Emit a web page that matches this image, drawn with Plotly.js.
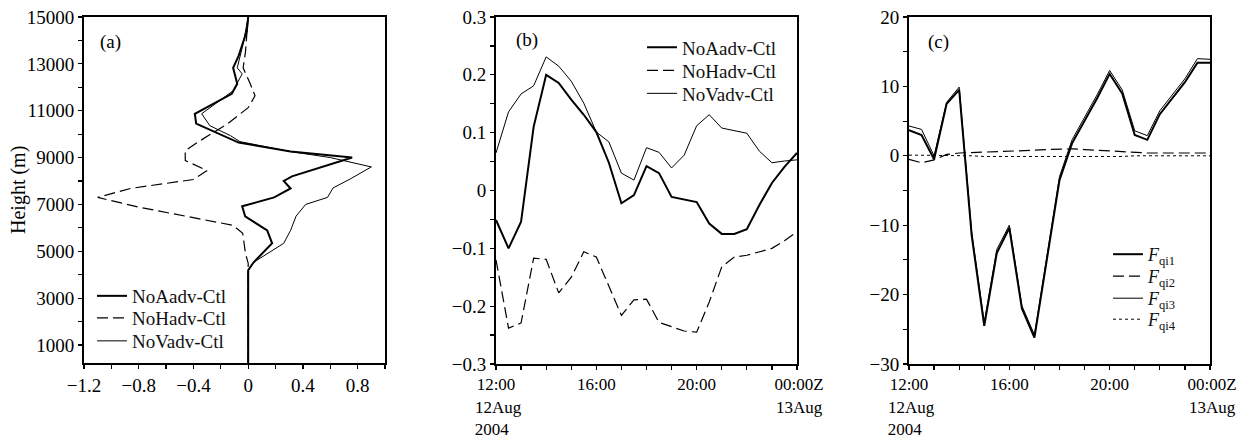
<!DOCTYPE html>
<html>
<head>
<meta charset="utf-8">
<script src="https://cdn.plot.ly/plotly-3.0.1.min.js"></script>
<style>html,body{margin:0;padding:0;background:#fff;}#chart{width:1254px;height:439px;}</style>
</head>
<body>
<div id="chart"></div>
<script>
// ---------- Panel (a): vertical profiles ----------
const aA_height = [230, 4190, 4530, 5340, 5890, 6490, 6920, 7300, 7680, 8000, 8200, 8700, 9000, 9255, 9640, 10450, 10870, 11720, 12150, 12830, 13340, 14400, 15000];
const aA_value  = [0, 0, 0.04, 0.175, 0.139, -0.022, -0.044, 0.19, 0.31, 0.26, 0.32, 0.60, 0.76, 0.31, -0.07, -0.38, -0.39, -0.12, -0.08, -0.11, -0.07, -0.01, 0];

const aH_height = [230, 4490, 4915, 5766, 6106, 6872, 7298, 7681, 8064, 8447, 8872, 9298, 9723, 10447, 11128, 11638, 12150, 12830, 13500, 15000];
const aH_value  = [0, 0, -0.02, -0.04, -0.11, -0.79, -1.1, -0.86, -0.40, -0.30, -0.46, -0.46, -0.35, -0.15, 0.0, 0.05, 0.015, -0.037, -0.02, 0];

const aV_height = [230, 4190, 4530, 5340, 5894, 6500, 7000, 7300, 7700, 8100, 8600, 9000, 9255, 9680, 9936, 10360, 10870, 11851, 12574, 12830, 13851, 15000];
const aV_value  = [0, 0, 0.04, 0.26, 0.31, 0.35, 0.42, 0.58, 0.62, 0.75, 0.90, 0.60, 0.31, -0.06, -0.13, -0.28, -0.34, -0.11, -0.044, -0.08, -0.037, 0];

const heightTicks = [1000, 3000, 5000, 7000, 9000, 11000, 13000, 15000];
const heightTickText = ['1000', '3000', '5000', '7000', '9000', '11000', '13000', '15000'];

// ---------- Panel (b): time series (hours after 12:00 UTC 12 Aug 2004) ----------
const hours = [0, 0.5, 1, 1.5, 2, 2.5, 3, 3.5, 4, 4.5, 5, 5.5, 6, 6.5, 7, 7.5, 8, 8.5, 9, 9.5, 10, 10.5, 11, 11.5, 12];
const bNoAadv = [-0.051, -0.100, -0.054, 0.110, 0.200, 0.186, 0.157, 0.131, 0.101, 0.048, -0.022, -0.008, 0.042, 0.030, -0.011, -0.016, -0.020, -0.057, -0.075, -0.075, -0.067, -0.025, 0.013, 0.041, 0.065];
const bNoHadv = [-0.120, -0.238, -0.229, -0.117, -0.119, -0.177, -0.150, -0.106, -0.115, -0.167, -0.216, -0.189, -0.188, -0.228, -0.236, -0.243, -0.245, -0.193, -0.132, -0.115, -0.112, -0.106, -0.100, -0.087, -0.071];
const bNoVadv = [0.065, 0.136, 0.167, 0.181, 0.231, 0.215, 0.189, 0.151, 0.101, 0.084, 0.030, 0.018, 0.074, 0.066, 0.039, 0.061, 0.112, 0.131, 0.108, 0.103, 0.099, 0.068, 0.048, 0.051, 0.053];

// ---------- Panel (c) ----------
const cFqi1 = [3.7, 3.0, -0.5, 7.5, 9.5, -11.5, -24.5, -14.0, -10.4, -22.0, -26.2, -14.8, -3.5, 1.8, 5.0, 8.3, 11.8, 9.0, 3.0, 2.3, 6.0, 8.3, 10.6, 13.4, 13.4];
const cFqi2 = [-0.5, -1.0, -0.6, 0.2, 0.4, 0.45, 0.5, 0.55, 0.6, 0.7, 0.8, 0.9, 1.0, 1.0, 0.9, 0.8, 0.7, 0.6, 0.45, 0.4, 0.4, 0.4, 0.4, 0.4, 0.4];
const cFqi3 = [4.3, 3.8, 0.0, 7.7, 9.9, -11.0, -24.0, -13.5, -10.0, -21.6, -25.8, -14.3, -3.0, 2.3, 5.5, 8.8, 12.3, 9.5, 3.6, 2.9, 6.5, 8.8, 11.1, 14.0, 13.9];
const cFqi4 = [0.1, 0.1, 0, 0, 0, 0, -0.1, -0.1, -0.1, -0.1, -0.2, -0.2, -0.2, -0.2, -0.2, -0.2, -0.1, -0.1, 0, 0, 0, 0, 0, 0, 0];

const timeTickVals = [0, 4, 8, 12];
const timeTickText = ['12:00<br>\u00a012Aug<br>2004\u00a0\u00a0', '16:00', '20:00', '\u00a000:00Z<br>\u00a013Aug'];
const nameA = 'NoAadv-Ctl', nameH = 'NoHadv-Ctl', nameV = 'NoVadv-Ctl';
const nameF = ['<i>F</i><sub>qi1</sub>', '<i>F</i><sub>qi2</sub>', '<i>F</i><sub>qi3</sub>', '<i>F</i><sub>qi4</sub>'];

const FONT = 'Liberation Serif, Times New Roman, serif';
const W = 1254, H = 439;
const px = v => v / W;
const py = v => 1 - v / H;

const solidThick = {color: '#000', width: 2};
const dashed = {color: '#000', width: 1.2, dash: '11px,5px'};
const thin = {color: '#000', width: 1};

const traces = [
  {x: aA_value, y: aA_height, xaxis: 'x', yaxis: 'y', mode: 'lines', name: nameA, line: solidThick, legend: 'legend'},
  {x: aH_value, y: aH_height, xaxis: 'x', yaxis: 'y', mode: 'lines', name: nameH, line: dashed, legend: 'legend2'},
  {x: aV_value, y: aV_height, xaxis: 'x', yaxis: 'y', mode: 'lines', name: nameV, line: thin, legend: 'legend3'},
  {x: hours, y: bNoAadv, xaxis: 'x2', yaxis: 'y2', mode: 'lines', name: nameA, line: solidThick, legend: 'legend4'},
  {x: hours, y: bNoHadv, xaxis: 'x2', yaxis: 'y2', mode: 'lines', name: nameH, line: dashed, legend: 'legend5'},
  {x: hours, y: bNoVadv, xaxis: 'x2', yaxis: 'y2', mode: 'lines', name: nameV, line: thin, legend: 'legend6'},
  {x: hours, y: cFqi1, xaxis: 'x3', yaxis: 'y3', mode: 'lines', name: nameF[0], line: solidThick, legend: 'legend7'},
  {x: hours, y: cFqi2, xaxis: 'x3', yaxis: 'y3', mode: 'lines', name: nameF[1], line: dashed, legend: 'legend8'},
  {x: hours, y: cFqi3, xaxis: 'x3', yaxis: 'y3', mode: 'lines', name: nameF[2], line: thin, legend: 'legend9'},
  {x: hours, y: cFqi4, xaxis: 'x3', yaxis: 'y3', mode: 'lines', name: nameF[3], line: {color: '#000', width: 1, dash: 'dot'}, legend: 'legend10'}
];

const minorStyle = {ticks: 'outside', ticklen: 4, tickcolor: '#000', tickwidth: 1.2};
const axBase = {
  showline: true, linecolor: '#000', linewidth: 2, mirror: true,
  ticks: 'outside', ticklen: 4, tickwidth: 1.2, tickcolor: '#000',
  showgrid: false, zeroline: false, fixedrange: true,
  tickfont: {family: FONT, size: 19, color: '#000'}
};
const xTimeFont = {family: FONT, size: 17, color: '#000'};
const yDom = [py(364), py(17)];

const legBase = {
  bgcolor: 'rgba(0,0,0,0)', borderwidth: 0, xanchor: 'left', yanchor: 'top',
  font: {family: FONT, size: 19, color: '#111'}, itemwidth: 30
};
function leg(xpx, centerPx, off) {
  return Object.assign({}, legBase, {x: px(xpx), y: py(centerPx - off)});
}
const legFontC = {family: FONT, size: 18, color: '#111'};

const layout = {
  width: W, height: H,
  margin: {l: 0, r: 0, t: 0, b: 0},
  paper_bgcolor: '#fff', plot_bgcolor: '#fff',
  showlegend: true,
  font: {family: FONT, size: 18, color: '#000'},
  xaxis: Object.assign({}, axBase, {domain: [px(84), px(385)], anchor: 'y', range: [-1.2, 1.0],
    tickmode: 'array', tickvals: [-1.2, -0.8, -0.4, 0, 0.4, 0.8], ticktext: ['\u22121.2', '\u22120.8', '\u22120.4', '0', '0.4', '0.8'],
    minor: Object.assign({tickmode: 'array', tickvals: [-1.0, -0.6, -0.2, 0.2, 0.6, 1.0]}, minorStyle)}),
  yaxis: Object.assign({}, axBase, {domain: [py(363), py(17)], anchor: 'x', range: [230, 15000],
    tickmode: 'array', tickvals: heightTicks, ticktext: heightTickText,
    minor: Object.assign({tickmode: 'array', tickvals: [2000, 4000, 6000, 8000, 10000, 12000, 14000]}, minorStyle)}),
  xaxis2: Object.assign({}, axBase, {domain: [px(496), px(797)], anchor: 'y2', range: [0, 12],
    tickmode: 'array', tickvals: timeTickVals, ticktext: timeTickText, tickfont: xTimeFont,
    minor: Object.assign({tickmode: 'array', tickvals: [1, 2, 3, 5, 6, 7, 9, 10, 11]}, minorStyle)}),
  yaxis2: Object.assign({}, axBase, {domain: yDom, anchor: 'x2', range: [-0.3, 0.3],
    tickmode: 'array', tickvals: [-0.3, -0.2, -0.1, 0, 0.1, 0.2, 0.3], ticktext: ['\u22120.3', '\u22120.2', '\u22120.1', '0', '0.1', '0.2', '0.3'],
    minor: Object.assign({tickmode: 'array', tickvals: [-0.25, -0.15, -0.05, 0.05, 0.15, 0.25]}, minorStyle)}),
  xaxis3: Object.assign({}, axBase, {domain: [px(909), px(1210)], anchor: 'y3', range: [0, 12],
    tickmode: 'array', tickvals: timeTickVals, ticktext: timeTickText, tickfont: xTimeFont,
    minor: Object.assign({tickmode: 'array', tickvals: [1, 2, 3, 5, 6, 7, 9, 10, 11]}, minorStyle)}),
  yaxis3: Object.assign({}, axBase, {domain: yDom, anchor: 'x3', range: [-30, 20],
    tickmode: 'array', tickvals: [-30, -20, -10, 0, 10, 20], ticktext: ['\u221230', '\u221220', '\u221210', '0', '10', '20'],
    minor: Object.assign({tickmode: 'array', tickvals: [-25, -15, -5, 5, 15]}, minorStyle)}),
  legend: leg(92, 295, 18),
  legend2: leg(92, 317, 18),
  legend3: leg(92, 340, 18),
  legend4: leg(642, 48, 19.5),
  legend5: leg(642, 71, 19.5),
  legend6: leg(642, 94, 19.5),
  legend7: Object.assign(leg(1108, 258, 22), {font: legFontC}),
  legend8: Object.assign(leg(1108, 280, 22), {font: legFontC}),
  legend9: Object.assign(leg(1108, 302, 22), {font: legFontC}),
  legend10: Object.assign(leg(1108, 323, 22), {font: legFontC}),
  annotations: [
    {text: '(a)', xref: 'paper', yref: 'paper', x: px(98), y: py(42), xanchor: 'left', yanchor: 'middle', showarrow: false, font: {family: FONT, size: 19}},
    {text: '(b)', xref: 'paper', yref: 'paper', x: px(514), y: py(40), xanchor: 'left', yanchor: 'middle', showarrow: false, font: {family: FONT, size: 19}},
    {text: '(c)', xref: 'paper', yref: 'paper', x: px(926), y: py(42), xanchor: 'left', yanchor: 'middle', showarrow: false, font: {family: FONT, size: 19}},
    {text: 'Height (m)', xref: 'paper', yref: 'paper', x: px(18), y: py(190), xanchor: 'center', yanchor: 'middle', textangle: -90, showarrow: false, font: {family: FONT, size: 20}}
  ]
};

Plotly.newPlot('chart', traces, layout, {displayModeBar: false, staticPlot: true});
</script>
</body>
</html>
